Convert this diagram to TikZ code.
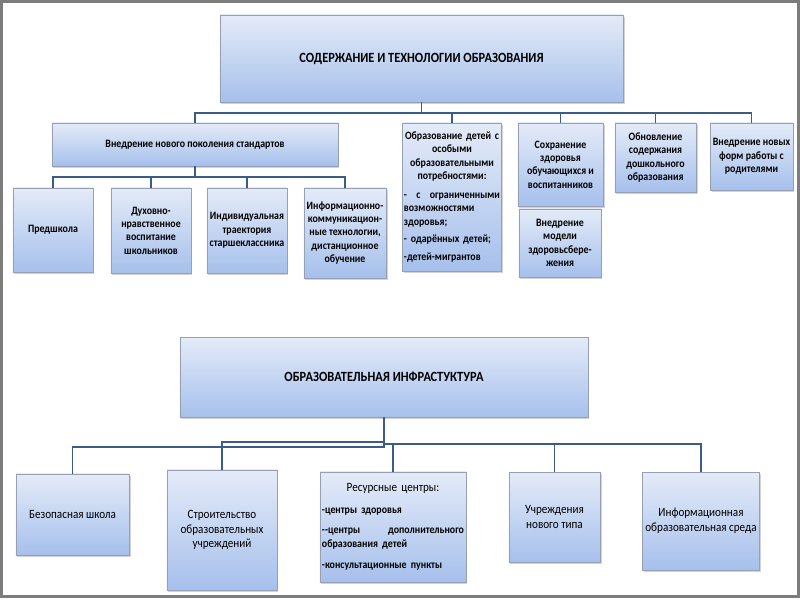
\documentclass[tikz,border=0pt]{standalone}
\usepackage{fontspec}
\setmainfont{Carlito}[FakeStretch=0.88]
\usetikzlibrary{shadows}
\definecolor{boxtop}{RGB}{228,235,248}
\definecolor{boxbot}{RGB}{166,192,236}
\definecolor{boxedge}{RGB}{150,160,178}
\definecolor{linkblue}{RGB}{58,92,138}
\definecolor{framegrey}{RGB}{125,125,125}
\newcommand\midln[1]{\makebox[\linewidth][c]{#1}}
\newcommand\leftln[1]{\makebox[\linewidth][l]{#1}}

\begin{document}
\begin{tikzpicture}[x=0.025cm, y=-0.025cm,
    boxbase/.style={draw=boxedge, thin, top color=boxtop, bottom color=boxbot,
      drop shadow={shadow xshift=1pt, shadow yshift=-1.5pt, opacity=0.35},
      inner sep=2pt},
    box/.style={boxbase, align=center},
    topfont/.style={font=\fontsize{8}{9.5}\selectfont\bfseries},
    lowfont/.style={font=\fontsize{9}{10.5}\selectfont},
    topbox/.style={box, topfont},
    lowbox/.style={box, lowfont},
    headbox/.style={box, font=\fontsize{10}{12}\selectfont\bfseries},
    link/.style={linkblue, line width=1.4pt}]
    \useasboundingbox (0,0) rectangle (800,600);
    % slide frame
    \draw[framegrey, line width=2pt] (1.5,1.5) rectangle (798.5,596.5);

    % Upper block -- content and technologies
    \node[headbox, minimum width=10.08cm, minimum height=2.18cm] (content) at (421.5,58.5)
      {СОДЕРЖАНИЕ И ТЕХНОЛОГИИ ОБРАЗОВАНИЯ};
    \node[topbox, minimum width=7.15cm, minimum height=1.08cm] (fgos) at (195,144.5)
      {Внедрение нового поколения стандартов};
    \node[boxbase, topfont, inner sep=1pt, text width=2.4cm, minimum width=2.45cm, minimum height=3.7cm] (obr) at (452,197)
      {\midln{Образование детей с}\\\midln{особыми}\\\midln{образовательными}\\\midln{потребностями:}\\[4pt]
       \leftln{-\hfill с\hfill ограниченными}\\\leftln{возможностями}\\\leftln{здоровья;}\\[3pt]
       \leftln{- одарённых детей;}\\[3pt]
       \leftln{-детей-мигрантов}};
    \node[topbox, minimum width=2.13cm, minimum height=2.08cm] (sohr) at (560.5,164.5)
      {Сохранение\\здоровья\\обучающихся и\\воспитанников};
    \node[topbox, minimum width=2.05cm, minimum height=1.7cm] (model) at (560,243)
      {Внедрение\\модели\\здоровьсбере-\\жения};
    \node[topbox, minimum width=2.03cm, minimum height=1.73cm] (obnov) at (655.5,157.5)
      {Обновление\\содержания\\дошкольного\\образования};
    \node[topbox, minimum width=1.93cm, minimum height=1.68cm] (parents) at (751.5,156.5)
      {Внедрение новых\\форм работы с\\родителями};

    % standards
    \node[topbox, minimum width=2cm, minimum height=2.1cm] (presch) at (53,230) {Предшкола};
    \node[topbox, minimum width=2cm, minimum height=2.13cm] (moral) at (151,230.5)
      {Духовно-\\нравственное\\воспитание\\школьников};
    \node[topbox, minimum width=2cm, minimum height=2.13cm] (track) at (247,230.5)
      {Индивидуальная\\траектория\\старшеклассника};
    \node[topbox, minimum width=2cm, minimum height=2.25cm] (ict) at (345,233)
      {Информационно-\\коммуникацион-\\ные технологии,\\дистанционное\\обучение};

    \foreach \n in {fgos,obr,sohr,obnov,parents}
      \draw[link] (content.south) -- ++(0,11) -| (\n.north);
    \foreach \n in {presch,moral,track,ict}
      \draw[link] (fgos.south) -- ++(0,11) -| (\n.north);

    % Lower block -- infrastructure
    \node[headbox, minimum width=10.2cm, minimum height=2cm] (infra) at (384,377)
      {ОБРАЗОВАТЕЛЬНАЯ ИНФРАСТУКТУРА};
    \node[lowbox, minimum width=2.83cm, minimum height=2.03cm] (safe) at (72.5,514.5)
      {Безопасная школа};
    \node[lowbox, minimum width=2.75cm, minimum height=3cm] (build) at (222,530)
      {Строительство\\образовательных\\учреждений};
    \node[boxbase, lowfont, inner sep=1pt, text width=3.55cm, minimum width=3.65cm, minimum height=2.75cm] (res) at (393,527)
      {\midln{Ресурсные центры:}\\[6pt]
       {\fontsize{8}{9.5}\selectfont\bfseries
       \leftln{-центры здоровья}\\[5pt]
       \leftln{-{}-центры\hfill дополнительного}\\\leftln{образования детей}\\[5pt]
       \leftln{-консультационные пункты}}};
    \node[lowbox, minimum width=2.28cm, minimum height=2.25cm] (newtype) at (554.5,517)
      {Учреждения\\нового типа};
    \node[lowbox, minimum width=2.9cm, minimum height=2.45cm] (infenv) at (701,521)
      {Информационная\\образовательная среда};

    \draw[link] (infra.south) -- ++(0,25) -| (build.north);
    \draw[link] (infra.south) -- ++(0,30) -| (safe.north);
    \foreach \n in {res,newtype,infenv}
      \draw[link] (infra.south) -- ++(0,27) -| (\n.north);
\end{tikzpicture}
\end{document}
